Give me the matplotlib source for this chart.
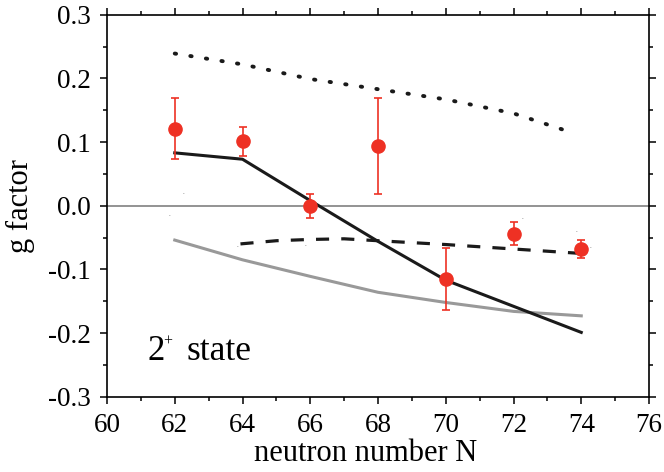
import matplotlib

matplotlib.use("Agg")
import matplotlib.pyplot as plt
from matplotlib.ticker import MultipleLocator, FormatStrFormatter

plt.rcParams["font.family"] = ["Liberation Serif", "DejaVu Serif"]
plt.rcParams["axes.unicode_minus"] = False

# measured g factors of the 2+ states
n_exp = [62, 64, 66, 68, 70, 72, 74]
g_exp = [0.121, 0.101, 0.000, 0.094, -0.115, -0.044, -0.068]
g_err = [0.048, 0.023, 0.019, 0.075, 0.049, 0.018, 0.014]

# model curves
n_solid = [62, 64, 66, 68, 70, 72, 74]
g_solid = [0.083, 0.073, 0.008, -0.056, -0.117, -0.158, -0.199]

n_dotted = [62, 64, 66, 68, 70, 72, 73.6]
g_dotted = [0.239, 0.222, 0.199, 0.183, 0.167, 0.145, 0.117]

n_dashed = [63.94, 65, 66, 67, 68, 70, 72, 74]
g_dashed = [-0.060, -0.055, -0.053, -0.052, -0.055, -0.061, -0.068, -0.075]

n_gray = [62, 64, 66, 68, 70, 72, 74]
g_gray = [-0.054, -0.085, -0.111, -0.136, -0.152, -0.166, -0.173]

# faint leftover marks scattered in the panel
n_specks = [62.26, 61.87, 63.88, 65.88, 72.29, 73.88, 74.28]
g_specks = [0.020, -0.0135, -0.063, -0.0606, -0.018, -0.039, -0.064]

fig = plt.figure(figsize=(6.64, 4.72), dpi=100)
ax = fig.add_axes([107 / 664, 75.3 / 472, 542 / 664, 382 / 472])

ax.axhline(0.0, color="#8a8a8a", lw=1.3, zorder=1)

ax.plot(n_gray, g_gray, color="#999999", lw=2.2, zorder=2)
ax.plot(n_solid, g_solid, color="#1a1a1a", lw=2.2, zorder=3)
ax.plot(n_dashed, g_dashed, color="#1a1a1a", lw=2.3,
        dashes=(4.1, 3.8), zorder=3)
ax.plot(n_dotted, g_dotted, color="#1a1a1a", lw=2.8,
        dashes=(0.35, 3.7), dash_capstyle="round", zorder=3)

for n, g in zip(n_specks, g_specks):
    ax.text(n, g, "..", fontsize=4, color="#888888", ha="center", va="center")

ax.errorbar(n_exp, g_exp, yerr=g_err, fmt="o", color="#ee3124",
            ms=9.5, elinewidth=1.2, capsize=2.6, capthick=1.2, zorder=5)

# "2+ state" label, built from pieces so the superscript stays small
label_pos = (61.2, -0.242)
ax.annotate("2", xy=label_pos, xytext=(0, 0), textcoords="offset points",
            fontsize=25, ha="left", va="baseline")
ax.annotate("+", xy=label_pos, xytext=(14.6, 13.0), textcoords="offset points",
            fontsize=11.5, ha="center", va="center")
ax.annotate("state", xy=label_pos, xytext=(28.2, 0), textcoords="offset points",
            fontsize=25.5, ha="left", va="baseline")

ax.set_xlim(60, 76)
ax.set_ylim(-0.3, 0.3)
ax.xaxis.set_major_locator(MultipleLocator(2))
ax.xaxis.set_minor_locator(MultipleLocator(1))
ax.yaxis.set_major_locator(MultipleLocator(0.1))
ax.yaxis.set_minor_locator(MultipleLocator(0.05))
ax.yaxis.set_major_formatter(FormatStrFormatter("%.1f"))

ax.tick_params(which="major", direction="out", length=5, width=1.1,
               labelsize=19.5)
ax.tick_params(which="minor", direction="out", length=3, width=1.1)
ax.tick_params(axis="x", which="major", pad=6.5)
ax.tick_params(axis="y", which="major", pad=6.6)
ax.tick_params(which="both", top=True, right=True)
for spine in ax.spines.values():
    spine.set_linewidth(1.2)

ax.set_xlabel("neutron number N", fontsize=22)
ax.xaxis.set_label_coords(0.477, -0.111, transform=ax.transAxes)
ax.xaxis.label.set_va("top")
ax.set_ylabel("g factor", fontsize=22)
ax.yaxis.set_label_coords(-0.160, 0.499, transform=ax.transAxes)
ax.yaxis.label.set_va("center")

fig.savefig("out.png", dpi=100)
